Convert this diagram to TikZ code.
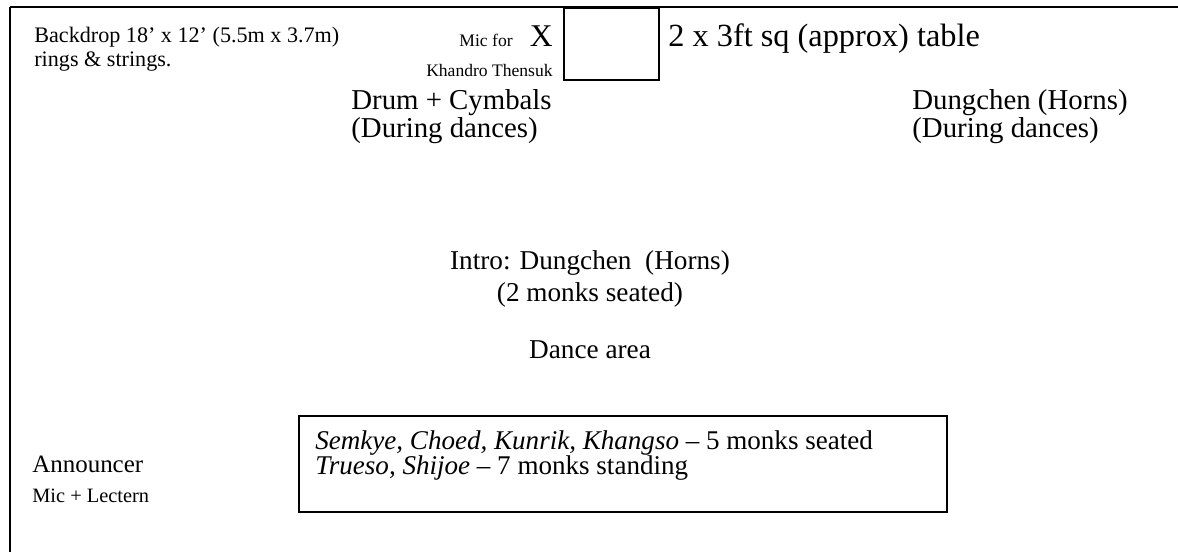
\documentclass[tikz,border=0pt]{standalone}
\usepackage{fontspec}
\setmainfont{Liberation Serif}
\usetikzlibrary{positioning}

\tikzset{
  tinytext/.style={font=\fontsize{10}{11}\selectfont, inner sep=0pt},
  smalltext/.style={font=\fontsize{12.6}{13.1}\selectfont, inner sep=0pt, align=left},
  listtext/.style={font=\fontsize{15.4}{14.2}\selectfont, inner sep=0pt, align=left},
  midtext/.style={font=\fontsize{16.4}{14.2}\selectfont, inner sep=0pt, align=left},
  bigtext/.style={font=\fontsize{15.5}{18.2}\selectfont, inner sep=0pt, align=center},
  stageline/.style={line width=1.6pt},
  boxline/.style={line width=1pt},
}

\begin{document}
\begin{tikzpicture}[x=0.02cm, y=-0.02cm]
        \useasboundingbox (0,0) rectangle (1178,552);

        % stage edges
        \coordinate (TL) at (10,7);
        \coordinate (TR) at (1178,7);
        \coordinate (BL) at (10,552);
        \draw[stageline] (TR) -- (TL);
        \draw[boxline] (TL) -- (BL);

        % back of the stage
        \node (backdrop) [smalltext, anchor=base west] at (34,66) {Backdrop 18’ x 12’ (5.5m x 3.7m)\\rings \& strings.};
        \node (table) [draw, boxline, minimum width=1.9cm, minimum height=1.44cm, anchor=north west] at (563,7) {};
        \node (X) [bigtext, font=\fontsize{18}{18}\selectfont, anchor=base east] at (553,46) {X};
        \node (micfor) [tinytext, anchor=base east] at (513,46) {Mic for};
        \node (khandro) [tinytext, anchor=base east] at (553,76) {Khandro Thensuk};
        \node (tablelabel) [bigtext, font=\fontsize{18.4}{18}\selectfont, anchor=base west] at (668,46) {2 x 3ft sq (approx) table};

        % musicians
        \node (drum) [midtext, anchor=base west] at (351,137) {Drum + Cymbals\\(During dances)};
        \node (horns) [midtext, anchor=base west] at (912,137) {Dungchen (Horns)\\(During dances)};
        \node (intro) [bigtext] at (590,279) {Intro: Dungchen\ \ (Horns)\\(2 monks seated)};
        \node (dance) [bigtext] at (590,350) {Dance area};

        % front of the stage
        \node (monks) [draw, boxline, minimum width=12.96cm, minimum height=1.92cm, anchor=north west] at (298,415) {};
        \node (monkslist) [listtext, below right=0.3cm and 0.34cm of monks.north west, anchor=north west]
              {\textit{Semkye, Choed, Kunrik, Khangso} – 5 monks seated\\\textit{Trueso, Shijoe} – 7 monks standing};
        \node (announcer) [bigtext, font=\fontsize{14.2}{15}\selectfont, anchor=base west] at (32,472) {Announcer};
        \node (lectern) [smalltext, font=\fontsize{11.6}{12}\selectfont, anchor=base west] at (32,502) {Mic + Lectern};
    \end{tikzpicture}
\end{document}
